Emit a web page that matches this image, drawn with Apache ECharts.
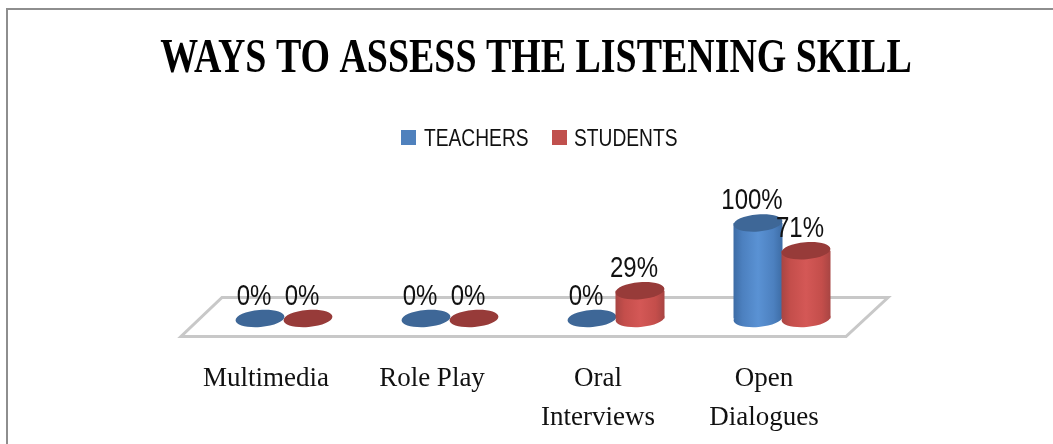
<!DOCTYPE html>
<html>
<head>
<meta charset="utf-8">
<style>html,body{margin:0;padding:0;background:#fff}#chart{width:1053px;height:444px}</style>
<script src="https://cdn.jsdelivr.net/npm/echarts@6/dist/echarts.min.js"></script>
</head>
<body>
<div id="chart"></div>
<script>
const chartTitle = 'WAYS TO ASSESS THE LISTENING SKILL';
const categories = ['Multimedia', 'Role Play', 'Oral\nInterviews', 'Open\nDialogues'];
const seriesNames = ['TEACHERS', 'STUDENTS'];
const teachers = [0, 0, 0, 100];
const students = [0, 0, 29, 71];

const SANS = '"Liberation Sans",sans-serif';
const SERIF = '"Liberation Serif",serif';
const BLUE = '#4f81bd';
const RED = '#c0504d';
const DEPTH_SHIFT = 18;   // floor depth moves the columns right of their axis labels
const RADIUS_X = 24.5;
const RADIUS_Y = 8.5;
const TILT = 0.08;

function hGradient(edge, soft, mid) {
  return { type: 'linear', x: 0, y: 0, x2: 1, y2: 0, colorStops: [
    { offset: 0, color: edge }, { offset: 0.18, color: soft }, { offset: 0.5, color: mid },
    { offset: 0.82, color: soft }, { offset: 1, color: edge } ] };
}

// Cylinder with a tilted elliptical cap, offset sideways inside its category band.
function cylinder(offset, body, cap) {
  return function (params, api) {
    const top = api.coord([api.value(0), api.value(1)]);
    const base = api.coord([api.value(0), 0]);
    const cx = top[0] + DEPTH_SHIFT + offset;
    const children = [];
    if (api.value(1) > 0) {
      children.push(
        { type: 'ellipse', shape: { cx: cx, cy: base[1], rx: RADIUS_X, ry: RADIUS_Y }, originX: cx, originY: base[1], rotation: TILT, style: { fill: body } },
        { type: 'rect', shape: { x: cx - RADIUS_X, y: top[1], width: RADIUS_X * 2, height: base[1] - top[1] }, style: { fill: body } }
      );
    }
    children.push(
      { type: 'ellipse', shape: { cx: cx, cy: top[1], rx: RADIUS_X, ry: RADIUS_Y }, originX: cx, originY: top[1], rotation: TILT, style: { fill: cap } },
      { type: 'text', x: cx - 6, y: top[1] - 22, scaleX: 0.8, style: { text: api.value(1) + '%', align: 'center', verticalAlign: 'middle', font: '30px ' + SANS, fill: '#111' } }
    );
    return { type: 'group', children: children };
  };
}

// Floor parallelogram derived from the plot rectangle.
function floor(params) {
  const g = params.coordSys;
  const back = g.y + g.height - 21, front = g.y + g.height + 18, left = g.x - 2, right = g.x + g.width - 1;
  return { type: 'polygon', silent: true, shape: { points: [[left, front], [right, front], [right + 42, back], [left + 41, back]] },
    style: { fill: '#fff', stroke: '#c8c8c8', lineWidth: 3 } };
}

function legendEntry(swatchX, textX, name, color) {
  return [
    { type: 'rect', silent: true, shape: { x: swatchX, y: 130, width: 15, height: 15 }, style: { fill: color } },
    { type: 'text', silent: true, x: textX, y: 139, scaleX: 0.8, style: { text: name, align: 'left', verticalAlign: 'middle', font: '24px ' + SANS, fill: '#111' } }
  ];
}

const chart = echarts.init(document.getElementById('chart'));
chart.setOption({
  animation: false,
  backgroundColor: '#fff',
  grid: { left: 183, width: 664, top: 223, height: 95.5 },
  xAxis: { type: 'category', data: categories, axisLine: { show: false }, axisTick: { show: false },
    axisLabel: { margin: 41, interval: 0, fontFamily: SERIF, fontSize: 27, color: '#111', lineHeight: 39 } },
  yAxis: { type: 'value', min: 0, max: 100, show: false },
  series: [
    { type: 'custom', name: 'floor', silent: true, z: 1, clip: false, data: [[0, 0]], renderItem: floor },
    { type: 'custom', name: seriesNames[0], z: 2, clip: false, encode: { x: 0, y: 1 },
      data: teachers.map((v, i) => [i, v]), renderItem: cylinder(-24, hGradient('#3d6ca5', '#4c80bf', '#5a92d4'), '#3e6797') },
    { type: 'custom', name: seriesNames[1], z: 3, clip: false, encode: { x: 0, y: 1 },
      data: students.map((v, i) => [i, v]), renderItem: cylinder(24, hGradient('#a84543', '#c44e4b', '#d45856'), '#973b39') }
  ],
  graphic: [
    { type: 'text', silent: true, x: 536, y: 60, scaleX: 0.79, style: { text: chartTitle, align: 'center', verticalAlign: 'middle', font: 'bold 48px ' + SERIF, fill: '#000' } },
    ...legendEntry(401, 424, seriesNames[0], BLUE),
    ...legendEntry(552, 574, seriesNames[1], RED),
    { type: 'rect', silent: true, z: 100, shape: { x: 7, y: 9, width: 1100, height: 500 }, style: { fill: 'none', stroke: '#8e8e8e', lineWidth: 2 } }
  ]
});
</script>
</body>
</html>
